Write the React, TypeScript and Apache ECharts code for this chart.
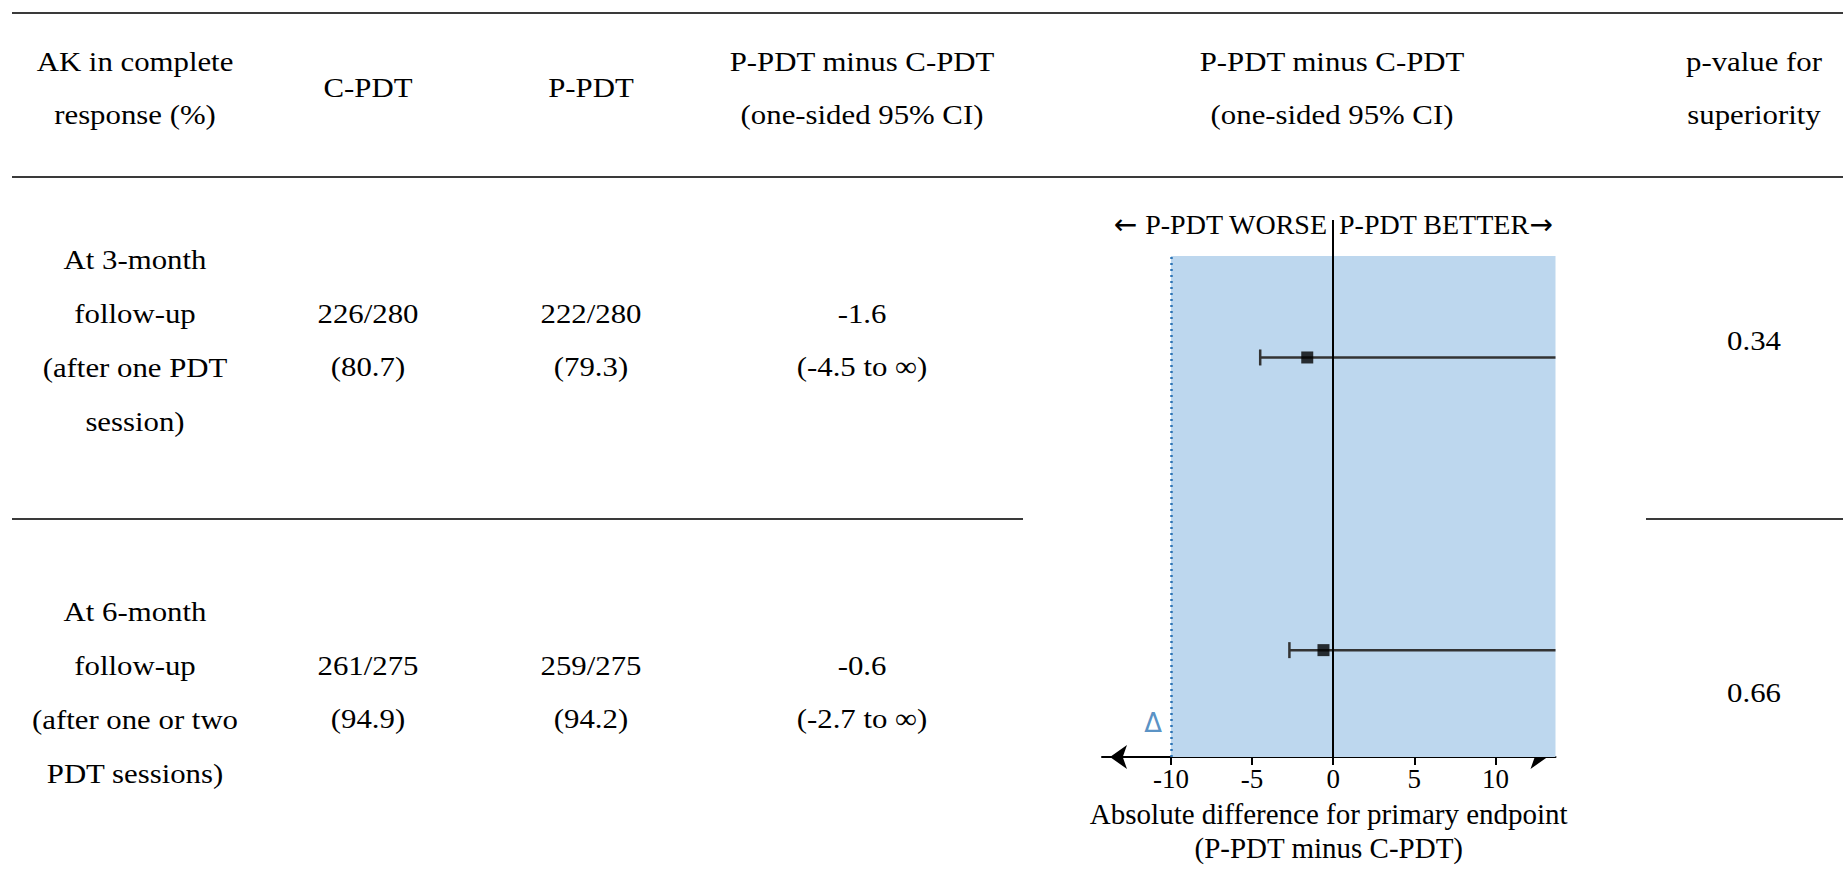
import React, { useEffect, useRef } from "react";
import * as echarts from "echarts";

// ---------- data ----------
const headerCells: string[][] = [
  ["AK in complete", "response (%)"],
  ["C-PDT"],
  ["P-PDT"],
  ["P-PDT minus C-PDT", "(one-sided 95% CI)"],
  ["P-PDT minus C-PDT", "(one-sided 95% CI)"],
  ["p-value for", "superiority"],
];
const timepoints: string[][] = [
  ["At 3-month", "follow-up", "(after one PDT", "session)"],
  ["At 6-month", "follow-up", "(after one or two", "PDT sessions)"],
];
const cPdtResponders = [226, 261];
const cPdtTotal = [280, 275];
const cPdtPercent = [80.7, 94.9];
const pPdtResponders = [222, 259];
const pPdtTotal = [280, 275];
const pPdtPercent = [79.3, 94.2];
const diffEstimate = [-1.6, -0.6];
const ciLower = [-4.5, -2.7];
const ciUpper = [Infinity, Infinity];
const pValues = ["0.34", "0.66"];
const nonInferiorityMargin = -10;
const tickValues = [-10, -5, 0, 5, 10];
const axisTitle = "Absolute difference for primary endpoint\n(P-PDT minus C-PDT)";
const worseLabel = "P-PDT WORSE";
const betterLabel = "P-PDT BETTER";

// ---------- layout ----------
const W = 1843;
const H = 874;
const X_MIN = -14.25;
const X_MAX = 13.7;
const rowLevel = [74.4, 19.9]; // vertical position of each row in the forest panel (0-100)
const shadeTop = 93.3;
const deltaLevel = 6.3;
const SERIF = '"Liberation Serif", "Times New Roman", serif';
const colX = [135, 368, 591, 862, 1332, 1754];
const TEXT_SIZE = 28;
const TEXT_SCALE = 1.1;
const LINE_COLOR = "#3a3a3a";
const TEXT_COLOR = "#000";

function tableText(text: string, x: number, y: number) {
  return {
    type: "text",
    x,
    y,
    scaleX: TEXT_SCALE,
    silent: true,
    style: {
      text,
      fontSize: TEXT_SIZE,
      fontFamily: SERIF,
      fill: TEXT_COLOR,
      align: "center",
      verticalAlign: "middle",
    },
  };
}

function hLine(x1: number, x2: number, y: number) {
  return {
    type: "line",
    silent: true,
    shape: { x1, y1: y, x2, y2: y },
    style: { stroke: LINE_COLOR, lineWidth: 2 },
  };
}

export default function App() {
  const ref = useRef<HTMLDivElement>(null);

  useEffect(() => {
    if (!ref.current) return;
    const chart = echarts.init(ref.current, undefined, { renderer: "svg" });

    const graphics: any[] = [];
    graphics.push(hLine(12, W, 13));
    graphics.push(hLine(12, W, 177));
    graphics.push(hLine(12, 1023, 519));
    graphics.push(hLine(1646, W, 519));

    // header
    headerCells.forEach((lines, c) => {
      if (lines.length === 2) {
        graphics.push(tableText(lines[0], colX[c], 61));
        graphics.push(tableText(lines[1], colX[c], 114));
      } else {
        graphics.push(tableText(lines[0], colX[c], 87));
      }
    });

    // body rows
    const rowTop = [259, 611];
    const lineGap = 54;
    timepoints.forEach((lines, r) => {
      lines.forEach((t, i) => graphics.push(tableText(t, colX[0], rowTop[r] + i * lineGap)));
      const y1 = rowTop[r] + lineGap;
      const y2 = rowTop[r] + 2 * lineGap - 1;
      graphics.push(tableText(`${cPdtResponders[r]}/${cPdtTotal[r]}`, colX[1], y1));
      graphics.push(tableText(`(${cPdtPercent[r].toFixed(1)})`, colX[1], y2));
      graphics.push(tableText(`${pPdtResponders[r]}/${pPdtTotal[r]}`, colX[2], y1));
      graphics.push(tableText(`(${pPdtPercent[r].toFixed(1)})`, colX[2], y2));
      graphics.push(tableText(diffEstimate[r].toFixed(1), colX[3], y1));
      const up = isFinite(ciUpper[r]) ? ciUpper[r].toFixed(1) : "\u221e";
      graphics.push(tableText(`(${ciLower[r].toFixed(1)} to ${up})`, colX[3], y2));
      graphics.push(tableText(pValues[r], colX[5], (y1 + y2) / 2 + 1));
    });

    // forest panel header
    const arrowRich = { arr: { fontFamily: '"DejaVu Sans", sans-serif', fontSize: 28, fill: TEXT_COLOR } };
    graphics.push({
      type: "text",
      x: 1327,
      y: 224,
      silent: true,
      style: {
        text: "{arr|\u2190}" + " " + worseLabel,
        rich: arrowRich,
        fontSize: 28,
        fontFamily: SERIF,
        fill: TEXT_COLOR,
        align: "right",
        verticalAlign: "middle",
      },
    });
    graphics.push({
      type: "text",
      x: 1339,
      y: 224,
      silent: true,
      style: {
        text: betterLabel + "{arr|\u2192}",
        rich: arrowRich,
        fontSize: 28,
        fontFamily: SERIF,
        fill: TEXT_COLOR,
        align: "left",
        verticalAlign: "middle",
      },
    });

    const ciData = ciLower.map((lo, i) => [lo, rowLevel[i], Math.min(ciUpper[i], X_MAX)]);
    const estData = diffEstimate.map((d, i) => [d, rowLevel[i]]);

    chart.setOption({
      animation: false,
      backgroundColor: "#fff",
      grid: { left: 1102, right: W - 1555.5, top: 220, bottom: H - 757 },
      xAxis: {
        type: "value",
        min: X_MIN,
        max: X_MAX,
        splitLine: { show: false },
        axisLine: {
          show: true,
          symbol: ["arrow", "arrow"],
          symbolSize: [18, 17],
          symbolOffset: [8, -8],
          lineStyle: { color: "#000", width: 2 },
        },
        axisTick: { show: true, customValues: tickValues, length: 8, lineStyle: { color: "#000", width: 2 } },
        axisLabel: {
          customValues: tickValues,
          fontSize: 27,
          fontFamily: SERIF,
          color: TEXT_COLOR,
          margin: 8,
        },
        name: axisTitle,
        nameLocation: "middle",
        nameGap: 29,
        nameTextStyle: { fontSize: 29, lineHeight: 34, fontFamily: SERIF, color: TEXT_COLOR },
      },
      yAxis: {
        type: "value",
        min: 0,
        max: 100,
        show: false,
        splitLine: { show: false },
      },
      graphic: graphics,
      series: [
        {
          type: "scatter",
          data: [],
          z: 1,
          silent: true,
          markArea: {
            silent: true,
            itemStyle: { color: "#BDD7EE" },
            data: [[{ coord: [nonInferiorityMargin, 0] }, { coord: [X_MAX, shadeTop] }]],
          },
        },
        {
          type: "scatter",
          data: [],
          z: 2,
          silent: true,
          markLine: {
            silent: true,
            symbol: "none",
            label: { show: false },
            data: [
              [
                { coord: [0, 0], lineStyle: { color: "#000", width: 2, type: "solid" } },
                { coord: [0, 100] },
              ],
              [
                { coord: [nonInferiorityMargin, 0], lineStyle: { color: "#2E75B6", width: 2.5, type: [2, 4] } },
                { coord: [nonInferiorityMargin, shadeTop] },
              ],
            ],
          },
        },
        {
          type: "custom",
          z: 3,
          silent: true,
          data: ciData,
          encode: { x: [0, 2], y: 1 },
          renderItem: (params: any, api: any) => {
            const y = api.value(1);
            const lo = api.coord([api.value(0), y]);
            const hi = api.coord([api.value(2), y]);
            const st = { stroke: "#333", lineWidth: 2.5 };
            return {
              type: "group",
              children: [
                { type: "line", shape: { x1: lo[0], y1: lo[1], x2: hi[0], y2: hi[1] }, style: st },
                { type: "line", shape: { x1: lo[0], y1: lo[1] - 8, x2: lo[0], y2: lo[1] + 8 }, style: st },
              ],
            };
          },
        },
        {
          type: "scatter",
          z: 4,
          silent: true,
          data: estData,
          symbol: "rect",
          symbolSize: 12,
          itemStyle: { color: "#000" },
        },
        {
          type: "scatter",
          z: 4,
          silent: true,
          data: [[nonInferiorityMargin, deltaLevel]],
          symbolSize: 0,
          label: {
            show: true,
            formatter: "\u0394",
            position: "left",
            distance: 9,
            fontSize: 26,
            fontFamily: '"DejaVu Sans", sans-serif',
            color: "#2E75B6",
          },
        },
      ],
    });

    return () => chart.dispose();
  }, []);

  return (
    <div
      ref={ref}
      style={{ position: "absolute", left: 0, top: 0, width: W, height: H, background: "#fff" }}
    />
  );
}
